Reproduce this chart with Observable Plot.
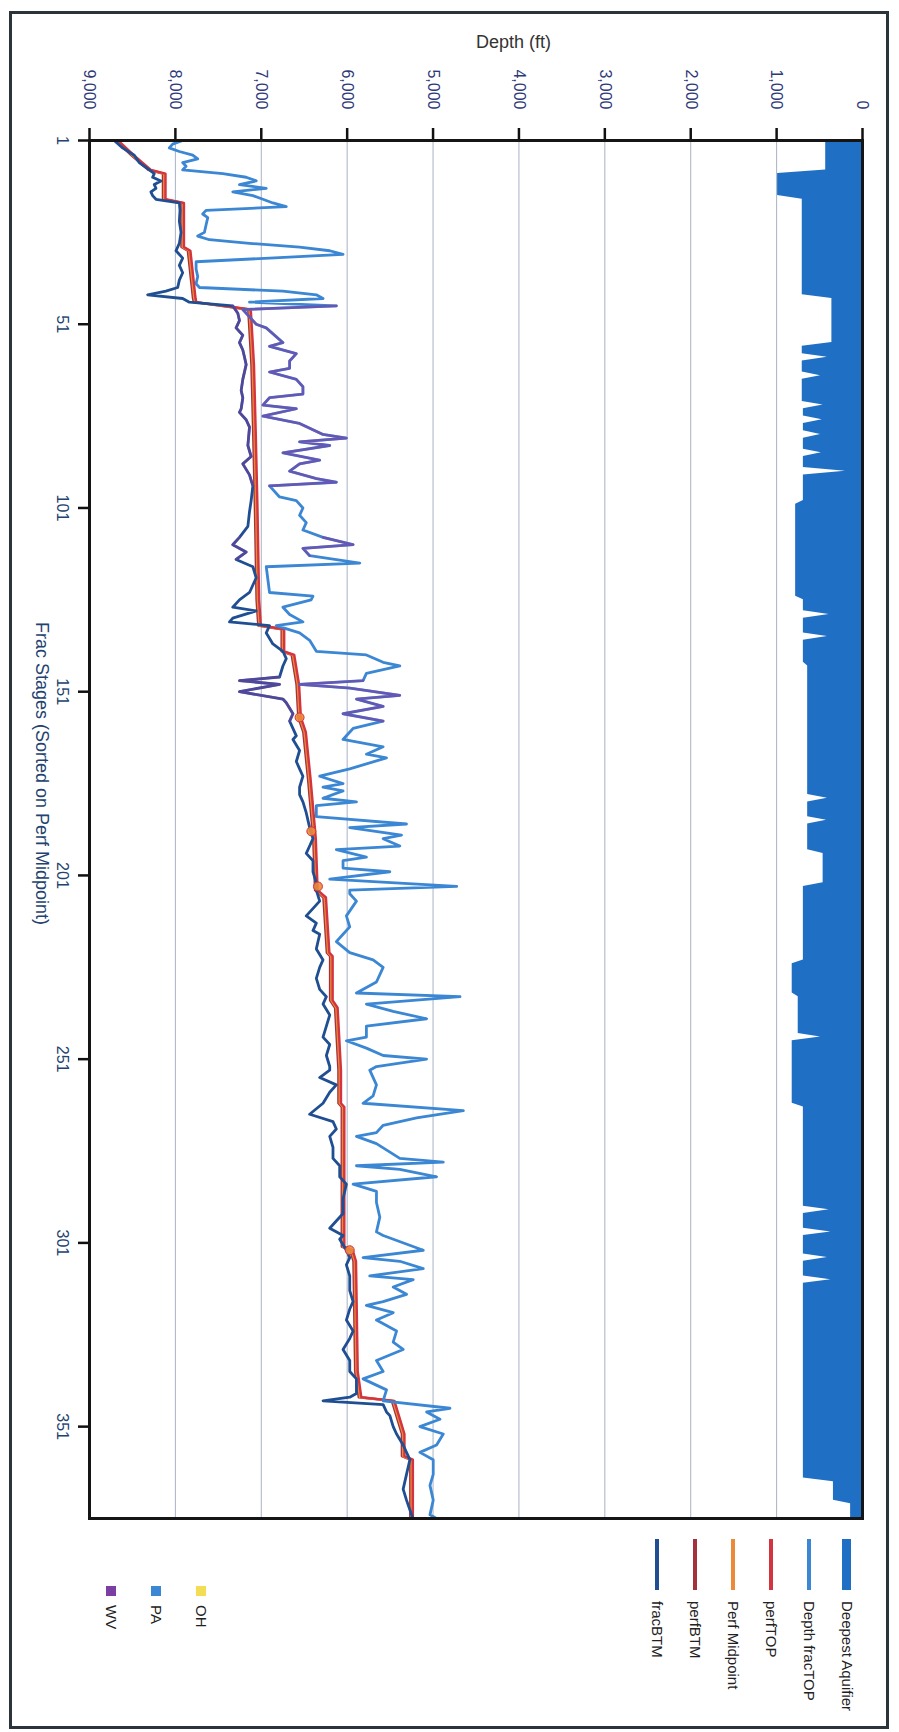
<!DOCTYPE html>
<html><head><meta charset="utf-8">
<script src="https://cdn.jsdelivr.net/npm/d3@7"></script>
<script src="https://cdn.jsdelivr.net/npm/@observablehq/plot@0.6"></script>
<style>
html,body{margin:0;padding:0;background:#fff;}
body{width:899px;height:1732px;overflow:hidden;position:relative;font-family:"Liberation Sans",Arial,sans-serif;}
#border{position:absolute;left:9px;top:11px;width:874px;height:1712px;border:3px solid #2b333b;box-sizing:content-box;}
#rot{position:absolute;left:0;top:0;width:1732px;height:899px;transform-origin:0 0;transform:translate(899px,0) rotate(90deg);}
#rot svg{position:absolute;left:0;top:0;}
.lg{position:absolute;font-size:15px;color:#222;white-space:nowrap;line-height:16px;}
.sw{position:absolute;}
</style>
</head><body>
<div id="border"></div>
<div id="rot"></div>
<script>
// ---------- DATA ----------
const stageTicks = [1, 51, 101, 151, 201, 251, 301, 351];
const depthTicks = [0, 1000, 2000, 3000, 4000, 5000, 6000, 7000, 8000, 9000];

const aquiferStage = [1,9,10,16,17,43,44,56,57,59,60,61,64,65,66,72,73,74,76,77,78,80,81,82,85,86,87,90,91,92,99,100,125,126,129,130,131,135,136,137,143,144,179,180,181,185,186,187,194,195,203,204,224,225,233,234,244,245,246,263,264,291,292,293,297,298,299,304,305,306,310,311,312,365,366,371,372,376];
const aquiferDepth = [440,440,1000,1000,713,713,368,368,713,713,420,713,713,500,713,713,470,700,700,480,700,700,500,700,700,490,700,700,210,700,700,790,790,700,700,400,700,700,420,700,700,650,650,420,650,650,430,650,650,470,470,700,700,830,830,760,760,500,830,830,700,700,400,700,700,380,700,700,420,700,700,380,700,700,350,350,150,150];

const fracTopStage = [1,2,3,4,5,6,7,8,9,10,11,12,13,14,15,16,17,18,19,20,21,22,24,26,27,28,29,30,31,32,33,34,36,38,40,41,42,43,44,45,46,47,49,51,52,56,57,59,61,63,64,66,68,70,71,73,74,76,78,81,82,83,84,86,88,89,91,93,94,95,98,99,101,103,105,107,109,111,112,114,116,117,124,125,126,128,130,132,133,135,137,140,141,143,144,146,148,149,150,152,153,155,157,159,161,163,164,166,168,169,172,174,176,177,178,180,181,182,185,187,188,190,191,193,194,196,197,199,200,202,204,205,206,208,212,215,217,219,222,224,226,230,233,234,236,238,240,242,245,246,248,250,251,253,254,258,261,263,265,267,269,271,272,274,278,279,280,281,283,285,287,290,294,298,299,303,305,306,308,310,311,313,315,317,318,320,322,325,328,330,333,336,338,341,344,346,347,349,351,353,356,358,360,364,367,371,375,376];
const fracTopDepth = [7915,8032,8071,7954,7798,7740,7915,7876,7915,7448,7176,7059,7254,6942,7332,7098,6981,6865,6709,7643,7682,7623,7643,7662,7740,7604,7137,6554,6203,6048,6904,7759,7759,7740,7759,7720,6748,6359,6281,7137,6126,7215,7137,7059,6942,6748,6904,6592,6670,6670,6904,6592,6515,6515,6904,6981,6592,6981,6554,6281,6009,6554,6203,6748,6320,6554,6670,6359,6126,6904,6787,6592,6515,6554,6476,6515,6281,5931,6515,6437,5853,6942,6904,6398,6420,6748,6670,6515,6826,6554,6437,6359,5776,5581,5387,5776,5815,6554,5970,5387,5892,5581,6048,5581,5931,6009,6048,5581,5776,5542,5970,6320,6048,6281,6048,6281,5892,6359,6359,5309,5970,5367,5581,5387,6126,5776,6048,6048,5503,6203,4725,5970,5970,5892,6009,5970,6048,6126,5970,5698,5581,5659,5892,4686,5776,5464,5075,5776,5776,6009,5776,5581,5075,5659,5737,5659,5698,5815,4647,5192,5581,5659,5892,5659,5387,4881,5892,5387,4959,5931,5659,5659,5620,5659,5581,5114,5815,5387,5114,5737,5231,5464,5309,5581,5776,5464,5659,5425,5464,5348,5659,5581,5815,5542,5581,4803,5075,4920,5153,4881,4959,5153,4998,4998,5036,4998,5036,4959];

const fracBtmStage = [1,3,5,7,9,10,11,12,13,14,15,16,17,18,20,23,26,29,31,33,35,37,39,41,42,43,44,45,46,48,50,52,54,56,58,60,62,66,69,71,74,75,77,79,84,87,89,92,95,99,102,106,109,111,113,115,117,120,124,126,128,129,131,132,133,135,138,140,142,144,147,148,149,151,153,154,157,159,163,164,167,170,172,174,177,179,181,184,188,191,193,195,197,200,203,205,208,212,214,216,217,221,224,226,229,232,234,236,239,242,245,247,250,253,254,256,258,260,263,266,268,270,272,275,278,280,283,285,289,293,297,299,300,303,305,307,310,314,317,319,322,325,327,330,333,336,338,342,343,344,345,347,348,351,353,356,358,360,364,368,371,375,376];
const fracBtmDepth = [8712,8615,8479,8421,8304,8246,8265,8168,8246,8226,8285,8265,8226,7954,7946,7954,7934,7954,7993,7915,7954,7915,7954,7973,8110,8323,7915,7837,7332,7273,7254,7293,7215,7254,7215,7195,7176,7215,7234,7215,7234,7254,7176,7137,7156,7118,7215,7137,7098,7118,7137,7156,7254,7332,7176,7293,7098,7059,7137,7254,7332,7059,7332,7370,6904,6942,6865,6748,6709,6748,6787,7254,6787,7254,6748,6709,6631,6670,6592,6631,6554,6592,6554,6515,6554,6554,6515,6476,6437,6398,6437,6476,6398,6398,6359,6359,6320,6476,6359,6398,6320,6359,6281,6320,6359,6320,6242,6281,6203,6242,6281,6203,6242,6203,6203,6320,6126,6203,6281,6437,6165,6126,6203,6165,6165,6087,6087,6009,6048,6048,6203,6048,6087,6009,5970,6009,5970,5970,5931,5970,6009,5931,5970,6048,5970,5970,5892,5892,5970,6281,5581,5542,5503,5464,5425,5348,5309,5270,5309,5348,5309,5250,5231];

const perfStage = [1,5,9,10,17,18,30,31,44,45,47,62,80,100,126,133,134,140,141,149,158,162,175,191,205,207,222,223,235,237,254,263,264,302,303,306,336,343,344,350,353,359,360,376];
const perfMidDepth = [8680,8500,8300,8130,8130,7915,7915,7840,7780,7770,7137,7100,7080,7060,7040,7020,6748,6748,6631,6575,6554,6496,6440,6380,6359,6262,6222,6184,6184,6126,6087,6087,6048,6048,5950,5912,5892,5850,5465,5387,5348,5348,5250,5250];
const perfTopDepth = [8665,8485,8285,8115,8115,7900,7900,7825,7765,7755,7122,7085,7065,7045,7025,7005,6733,6733,6616,6560,6539,6481,6425,6365,6344,6247,6207,6169,6169,6111,6072,6072,6033,6033,5935,5897,5877,5835,5450,5372,5333,5333,5235,5235];
const perfBtmDepth = [8695,8515,8315,8145,8145,7930,7930,7855,7795,7785,7152,7115,7095,7075,7055,7035,6763,6763,6646,6590,6569,6511,6455,6395,6374,6277,6237,6199,6199,6141,6102,6102,6063,6063,5965,5927,5907,5865,5480,5402,5363,5363,5265,5265];

// stage ranges of WV wells (drawn in purple)
const wvStart = [46, 108, 147];
const wvEnd = [95, 115, 160];
// OH points
const ohStage = [158, 189, 204, 303];
const ohDepth = [6554, 6417, 6340, 5970];

const legendLabels = ["Deepest Aquifier", "Depth fracTOP", "perfTOP", "Perf Midpoint", "perfBTM", "fracBTM"];
const typeLabels = ["OH", "PA", "WV"];

// ---------- STYLES ----------
const C = {aq:"#1f6fc5", top:"#3b87d4", ptop:"#d3343f", pmid:"#ec8a3a", pbtm:"#a3323e", btm:"#1f4f92", oh:"#f2dd55", pa:"#3b87d4", wv:"#7b3fa3"};
const legendColors = [C.aq, C.top, C.ptop, C.pmid, C.pbtm, C.btm];
const typeColors = [C.oh, C.pa, C.wv];

const rows = (xs, ys) => xs.map((s, i) => ({stage: s, depth: ys[i]}));
const aq = rows(aquiferStage, aquiferDepth);
const ftop = rows(fracTopStage, fracTopDepth);
const fbtm = rows(fracBtmStage, fracBtmDepth);
const pmid = rows(perfStage, perfMidDepth);
const ptop = rows(perfStage, perfTopDepth);
const pbtm = rows(perfStage, perfBtmDepth);
const oh = rows(ohStage, ohDepth);
const inWV = (data) => data.flatMap(d => {
  const k = wvStart.findIndex((a, i) => d.stage >= a && d.stage <= wvEnd[i]);
  return k < 0 ? [] : [{...d, seg: k}];
});

const chart = Plot.plot({
  width: 1732, height: 899,
  marginLeft: 140, marginRight: 214, marginTop: 36, marginBottom: 90,
  style: {fontFamily: "Liberation Sans, Arial, sans-serif", fontSize: "16px", background: "transparent"},
  x: {domain: [1, 376]},
  y: {domain: [0, 9000], reverse: true},
  marks: [
    Plot.gridY(depthTicks.slice(1, -1), {stroke: "#a8b2c4", strokeOpacity: 1, strokeWidth: 1}),
    Plot.areaY(aq, {x: "stage", y1: 0, y2: "depth", fill: C.aq}),
    Plot.line(pbtm, {x: "stage", y: "depth", stroke: C.pbtm, strokeWidth: 2.4}),
    Plot.line(pmid, {x: "stage", y: "depth", stroke: C.pmid, strokeWidth: 2.4}),
    Plot.line(ptop, {x: "stage", y: "depth", stroke: C.ptop, strokeWidth: 2.4}),
    Plot.line(ftop, {x: "stage", y: "depth", stroke: C.top, strokeWidth: 2.8}),
    Plot.line(fbtm, {x: "stage", y: "depth", stroke: C.btm, strokeWidth: 2.8}),
    Plot.line(inWV(ftop), {x: "stage", y: "depth", z: "seg", stroke: C.wv, strokeWidth: 2.6, strokeOpacity: 0.65}),
    Plot.line(inWV(fbtm), {x: "stage", y: "depth", z: "seg", stroke: C.wv, strokeWidth: 2.6, strokeOpacity: 0.55}),
    Plot.dot(oh, {x: "stage", y: "depth", r: 4.5, fill: C.pmid, stroke: C.ptop, strokeWidth: 1, fillOpacity: 0.9}),
    Plot.axisY({ticks: depthTicks, tickFormat: d3.format(","), tickSize: 12, tickPadding: 19, stroke: "#111", strokeWidth: 2.5, fill: "#2e3a78", fontSize: 16, label: null}),
    Plot.axisX({ticks: stageTicks, tickFormat: d => String(d), tickSize: 12, tickPadding: 9, stroke: "#111", strokeWidth: 2.5, fill: "#23426f", fontSize: 16, label: null}),
    Plot.frame({stroke: "#151515", strokeWidth: 3}),
    Plot.text(["Depth (ft)"], {frameAnchor: "left", dx: -98, rotate: -90, fill: "#333", fontSize: 18}),
    Plot.text(["Frac Stages (Sorted on Perf Midpoint)"], {frameAnchor: "bottom", dx: -56, dy: 54, fill: "#23426f", fontSize: 18})
  ]
});

const rot = document.getElementById("rot");
rot.appendChild(chart);

legendLabels.forEach((lab, i) => {
  const cy = 52 + i * 38;
  const sw = document.createElement("div");
  sw.className = "sw";
  const th = i === 0 ? 9 : 4;
  Object.assign(sw.style, {left: "1539px", top: (cy - th / 2) + "px", width: "51px", height: th + "px", background: legendColors[i]});
  rot.appendChild(sw);
  const t = document.createElement("div");
  t.className = "lg";
  t.textContent = lab;
  Object.assign(t.style, {left: "1601px", top: (cy - 8) + "px"});
  rot.appendChild(t);
});
typeLabels.forEach((lab, i) => {
  const cy = 698 + i * 45;
  const sw = document.createElement("div");
  sw.className = "sw";
  Object.assign(sw.style, {left: "1586px", top: (cy - 5) + "px", width: "10px", height: "10px", background: typeColors[i]});
  rot.appendChild(sw);
  const t = document.createElement("div");
  t.className = "lg";
  t.textContent = lab;
  Object.assign(t.style, {left: "1605px", top: (cy - 8) + "px"});
  rot.appendChild(t);
});
</script>
</body></html>
